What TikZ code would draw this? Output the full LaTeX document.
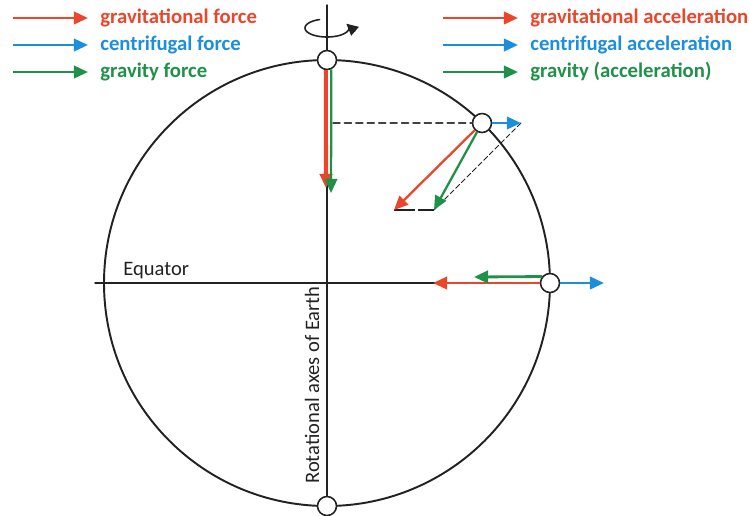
\documentclass[tikz,border=0pt]{standalone}
\usepackage{fontspec}
\setmainfont{Carlito}
\usetikzlibrary{arrows.meta}
\definecolor{gred}{HTML}{E9462B}
\definecolor{cblue}{HTML}{1B8EDC}
\definecolor{ggreen}{HTML}{1F9148}
\definecolor{ink}{HTML}{222222}
\begin{document}
\begin{tikzpicture}[x=0.02cm, y=-0.02cm, font=\fontsize{11.7}{14}\selectfont, line join=round, line cap=round,
	vec/.style={line width=1.6pt, line cap=butt, -{Triangle[length=8pt,width=7pt]}},
	pt/.style={circle, draw=ink, line width=0.9pt, fill=white, minimum size=0.38cm, inner sep=0pt},
	leg/.style={font=\fontsize{11.8}{14}\selectfont\bfseries, anchor=west, inner sep=0pt}]
	\useasboundingbox (0,0) rectangle (749,515);
	\def \R{223} % radius of the Earth
	\coordinate (O) at (327,283);
	\coordinate (Np) at (327,60);
	\coordinate (Sp) at (327,506);
	\coordinate (Ep) at (550,283);
	\coordinate (Pp) at (482,123);
	\coordinate (axtop) at (327,5);
	\coordinate (eqL) at (95,283);
	\coordinate (dL) at (333,123);
	% legend
	\foreach \c/\t [count=\i] in {gred/gravitational force, cblue/centrifugal force, ggreen/gravity force}{
		\coordinate (la\i) at (13,{18+27*(\i-1)});
		\node[leg, text=\c] (lt\i) at (100,{18+27*(\i-1)}) {\t};
		\draw[vec, \c] (la\i) -- ([xshift=-0.24cm]lt\i.west);
	}
	\foreach \c/\t [count=\i] in {gred/gravitational acceleration, cblue/centrifugal acceleration, ggreen/gravity (acceleration)}{
		\coordinate (ra\i) at (443,{18+27*(\i-1)});
		\node[leg, text=\c] (rt\i) at (530,{18+27*(\i-1)}) {\t};
		\draw[vec, \c] (ra\i) -- ([xshift=-0.24cm]rt\i.west);
	}
	% Earth, axis and equator
	\draw[ink, line width=1.1pt] (O) circle[radius=\R];
	\draw[ink, line width=0.8pt] (axtop) -- (Sp) (eqL) -- (Ep);
	\draw[ink, line width=0.9pt, -{Triangle[length=6.5pt,width=6.5pt]}] plot[domain=110:388, samples=50] ({327+22*cos(\x)},{28-9*sin(\x)});
	\node[anchor=base west, inner sep=0pt, text=ink] (eq) at (123,275) {Equator};
	\node[rotate=90, inner sep=0pt, text=ink] (ax) at (312,385) {Rotational axes of Earth};
	% points on the surface
	\foreach \p in {N,S,E,P} \node[pt] (\p) at (\p p) {};
	% construction lines
	\coordinate (fN) at (326,188);
	\coordinate (gN) at (331,193);
	\coordinate (fP) at (394,210);
	\coordinate (gP) at (434,210);
	\coordinate (cP) at (521,123);
	\coordinate (fE) at (433,283);
	\coordinate (gE) at (474,277);
	\coordinate (cE) at (604,283);
	\draw[ink!85, line width=0.8pt, dash pattern=on 4pt off 2.5pt] (dL) -- (P);
	\draw[ink, line width=0.5pt, dash pattern=on 3pt off 1.5pt] (cP) -- (gP);
	\draw[ink, line width=1.3pt, line cap=butt, dash pattern=on 12pt off 1.5pt] (fP) -- (gP);
	% vectors
	\draw[vec, gred, line width=2.3pt] (N.-96) -- (fN);
	\draw[vec, ggreen, line width=1.3pt] (N.-65) -- (gN);
	\draw[vec, gred, line width=1.3pt] (P) -- (fP);
	\draw[vec, ggreen, line width=1.3pt] (P) -- (gP);
	\draw[vec, cblue] (P) -- (cP);
	\draw[vec, gred] (E) -- (fE);
	\draw[vec, ggreen] (E.141) -- (gE);
	\draw[vec, cblue] (E) -- (cE);
\end{tikzpicture}
\end{document}
